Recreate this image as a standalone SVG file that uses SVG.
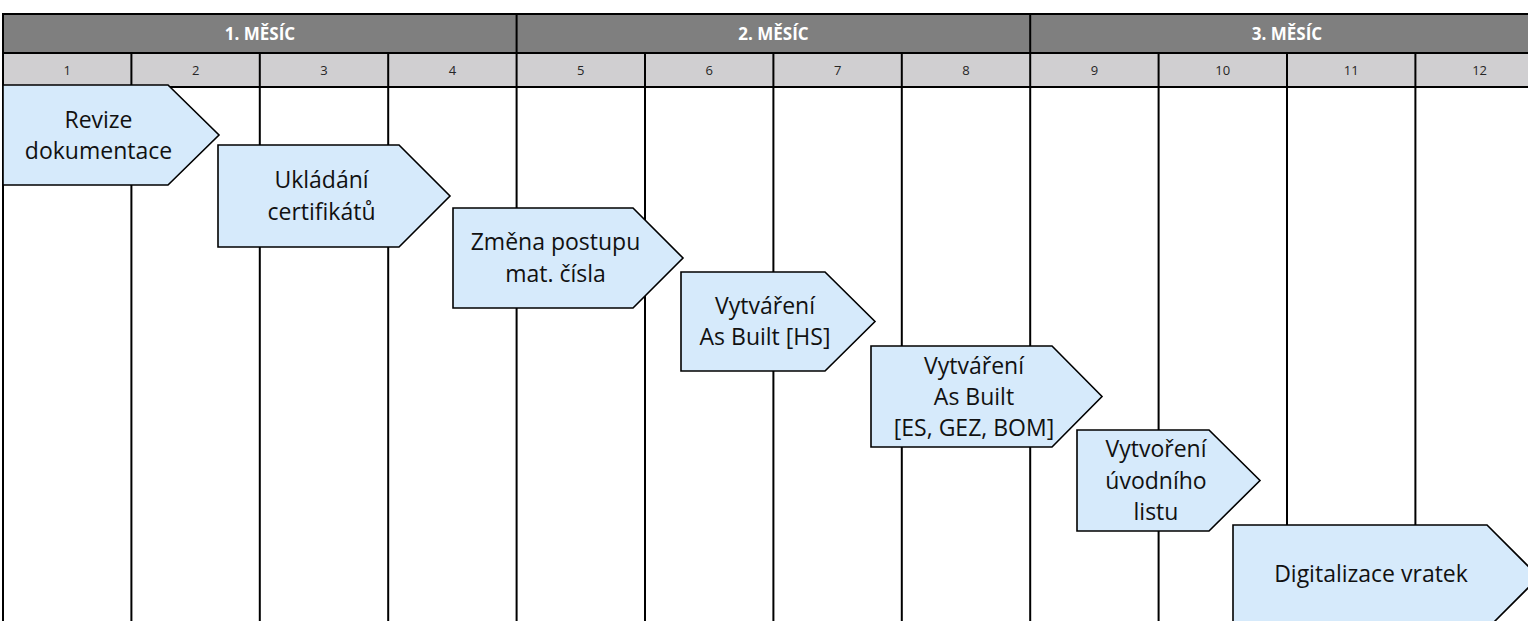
<svg xmlns="http://www.w3.org/2000/svg" width="1528" height="621" viewBox="0 0 1528 621">
  <style>
    .month { fill: #7f7f7f; }
    .week { fill: #d0cfd1; }
    .grid { stroke: #000; stroke-width: 2; fill: none; }
    .mtext { font-family: "Open Sans", "Liberation Sans", sans-serif; font-weight: bold; font-size: 17px; fill: #fff; text-anchor: middle; }
    .wtext { font-family: "Open Sans", "Liberation Sans", sans-serif; font-size: 13px; fill: #262626; text-anchor: middle; }
    .step { fill: #d6eafb; stroke: #000; stroke-width: 1.6; stroke-linejoin: miter; }
    .label { font-family: "Open Sans", "Liberation Sans", sans-serif; font-size: 23px; fill: #111; text-anchor: middle; }
  </style>

  <!-- timeline table: month row, week row, week columns -->
  <g id="timeline">
    <rect class="month" x="3" y="14" width="1541" height="39"/>
    <rect class="week" x="3" y="53" width="1541" height="34"/>
    <text class="mtext" x="260" y="40">1. MĚSÍC</text>
    <text class="mtext" x="773.5" y="40">2. MĚSÍC</text>
    <text class="mtext" x="1287" y="40">3. MĚSÍC</text>
    <g class="wtext">
      <text x="67.2" y="75">1</text>
      <text x="195.6" y="75">2</text>
      <text x="324" y="75">3</text>
      <text x="452.4" y="75">4</text>
      <text x="580.8" y="75">5</text>
      <text x="709.2" y="75">6</text>
      <text x="837.6" y="75">7</text>
      <text x="966" y="75">8</text>
      <text x="1094.4" y="75">9</text>
      <text x="1222.8" y="75">10</text>
      <text x="1351.2" y="75">11</text>
      <text x="1479.6" y="75">12</text>
    </g>
    <path class="grid" d="M3,14 H1544 M3,53 H1544 M3,87 H1544 M3,13 V621 M516.6,14 V53 M1030.2,14 V53"/>
    <path class="grid" d="M131.4,53 V621 M259.8,53 V621 M388.2,53 V621 M516.6,53 V621 M645,53 V621 M773.4,53 V621 M901.8,53 V621 M1030.2,53 V621 M1158.6,53 V621 M1287,53 V621 M1415.4,53 V621"/>
  </g>

  <g id="connectors"/>

  <g id="step-revize">
    <polygon class="step" points="3,85 168,85 219,135 168,185 3,185"/>
    <text class="label" x="98.5" y="127.5">Revize</text>
    <text class="label" x="98.5" y="158.5">dokumentace</text>
  </g>

  <g id="step-certifikaty">
    <polygon class="step" points="218,145 399,145 450,196 399,247 218,247"/>
    <text class="label" x="321.5" y="188">Ukládání</text>
    <text class="label" x="321.5" y="219.5">certifikátů</text>
  </g>

  <g id="step-postup">
    <polygon class="step" points="453,208 633,208 683,258 633,308 453,308"/>
    <text class="label" x="555.5" y="250">Změna postupu</text>
    <text class="label" x="555.5" y="281.5">mat. čísla</text>
  </g>

  <g id="step-asbuilt-hs">
    <polygon class="step" points="681,272 825,272 875,321.5 825,371 681,371"/>
    <text class="label" x="765" y="313.5">Vytváření</text>
    <text class="label" x="765" y="345">As Built [HS]</text>
  </g>

  <g id="step-asbuilt-es">
    <polygon class="step" points="871,346 1052,346 1102,396.5 1052,447 871,447"/>
    <text class="label" x="974" y="374">Vytváření</text>
    <text class="label" x="974" y="405">As Built</text>
    <text class="label" x="974" y="436">[ES, GEZ, BOM]</text>
  </g>

  <g id="step-uvodni-list">
    <polygon class="step" points="1077,430 1209,430 1260,480.5 1209,531 1077,531"/>
    <text class="label" x="1156" y="457">Vytvoření</text>
    <text class="label" x="1156" y="488.5">úvodního</text>
    <text class="label" x="1156" y="520">listu</text>
  </g>

  <g id="step-vratky">
    <polygon class="step" points="1233,525 1487,525 1539,577 1487,629 1233,629"/>
    <text class="label" x="1371" y="582">Digitalizace vratek</text>
  </g>
</svg>
